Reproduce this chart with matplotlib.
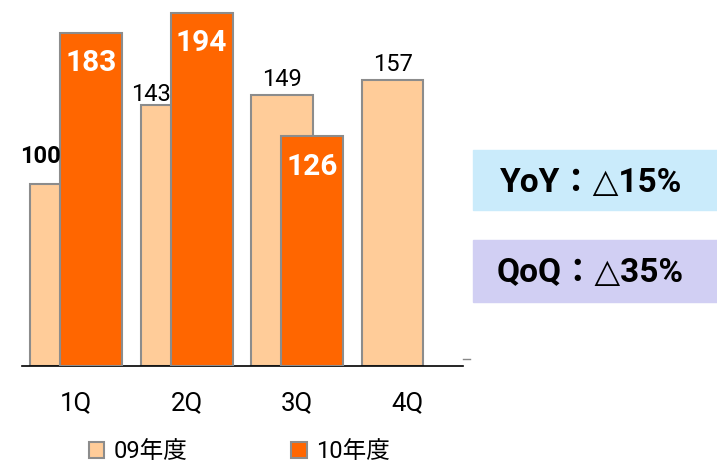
import numpy as np
import matplotlib
matplotlib.use("Agg")
import matplotlib.pyplot as plt
from matplotlib.patches import Rectangle, Patch

plt.rcParams['font.family'] = ['Roboto', 'DejaVu Sans', 'Noto Sans CJK JP']

#-----------------------------------------------
# data

quarters = ["1Q", "2Q", "3Q", "4Q"]
fy09 = [100, 143, 149, 157]
fy10 = [183, 194, 126]
series_names = ["09年度", "10年度"]
yoy_text = "YoY：△15%"
qoq_text = "QoQ：△35%"

col09 = "#FFCC99"
col10 = "#FF6600"
edge = "#8C8C8C"

#-----------------------------------------------

fig = plt.figure(figsize=(7.17, 4.62), dpi=100)
ax = fig.add_axes([22/717, 96/462, 441/717, 364.4/462])

x = np.arange(len(quarters))
off = 0.136
w = 0.561

ax.bar(x - off, fy09, w, color=col09, edgecolor=edge, linewidth=1.5, zorder=2)
x10 = x[:len(fy10)] + off
ax.bar(x10, fy10, w, color=col10, edgecolor=edge, linewidth=1.5, zorder=3)

# labels for 09 bars (1Q/2Q sit left of the 10 bar)
for i, v in enumerate(fy09):
    if i < 2:
        lx = x[i] - 0.326
    else:
        lx = x[i] - off
    if i == 0:
        ax.annotate(str(v), (lx, v), xytext=(0, 20), textcoords='offset points',
                    ha='center', va='center', fontsize=17, fontweight='bold', color='black')
    else:
        dy = 8 if i == 1 else 11
        ax.annotate(str(v), (lx, v), xytext=(0, dy), textcoords='offset points',
                    ha='center', va='center', fontsize=17, color='black')

for i, v in enumerate(fy10):
    ax.annotate(str(v), (x10[i], v), xytext=(0, -22), textcoords='offset points',
                ha='center', va='center', fontsize=21.5, fontweight='bold', color='white',
                zorder=5)

ax.set_xlim(-0.489, 3.502)
ax.set_ylim(0, 200)
ax.set_xticks(x)
ax.set_xticklabels(quarters, fontsize=18.5)
ax.tick_params(axis='x', length=0, pad=18)
ax.set_yticks([])
for s in ['top', 'left', 'right']:
    ax.spines[s].set_visible(False)
ax.spines['bottom'].set_linewidth(1.2)
ax.spines['bottom'].set_color('black')

# little dash at the right end
ax.plot([1.0, 1.015], [4, 4], transform=ax.get_yaxis_transform(), color='#888888',
        linewidth=1, clip_on=False)

# legend
handles = [Patch(facecolor=col09, edgecolor=edge, linewidth=1.5),
           Patch(facecolor=col10, edgecolor=edge, linewidth=1.5)]
fig.legend(handles, series_names, loc='center', bbox_to_anchor=(0.334, 0.022),
           ncol=2, frameon=False, fontsize=17, handlelength=0.65, handleheight=0.65,
           handletextpad=0.4, columnspacing=4.4)

# YoY / QoQ boxes
fig.patches.append(Rectangle((473/717, 1 - 210/462), 244/717, 60/462,
                             transform=fig.transFigure, color='#CAEBFB', zorder=0))
fig.patches.append(Rectangle((473/717, 1 - 302/462), 244/717, 62/462,
                             transform=fig.transFigure, color='#D1CFF3', zorder=0))
fig.text(591/717, 1 - 183/462, yoy_text, ha='center', va='center', fontsize=24,
         fontweight='bold')
fig.text(590/717, 1 - 273/462, qoq_text, ha='center', va='center', fontsize=24,
         fontweight='bold')

fig.savefig("out.png", dpi=100)
